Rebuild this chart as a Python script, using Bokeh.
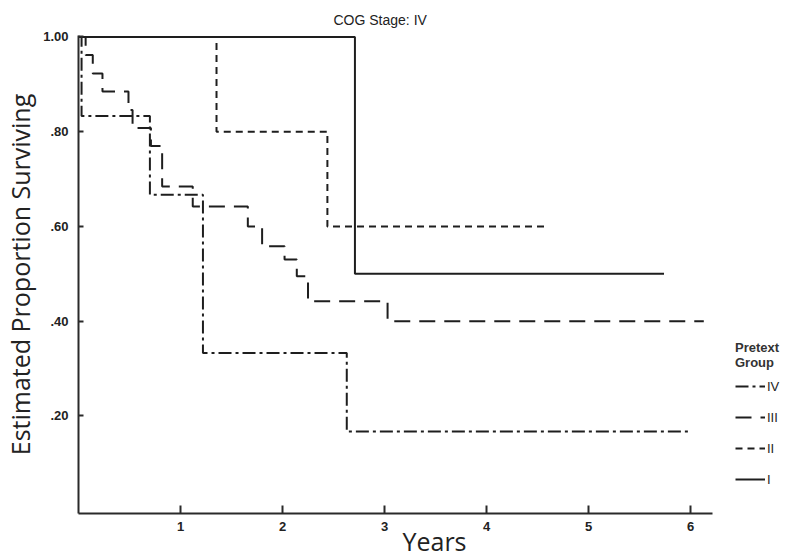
from bokeh.plotting import figure
from bokeh.models import Range1d, FixedTicker, Legend, LegendItem
from bokeh.embed import file_html
from bokeh.resources import INLINE

# ---- data ----
title_text = "COG Stage: IV"
x_label = "Years"
y_label = "Estimated Proportion Surviving"
legend_title = "Pretext\nGroup"

x_ticks = [1, 2, 3, 4, 5, 6]
x_tick_labels = ["1", "2", "3", "4", "5", "6"]
y_ticks = [0.2, 0.4, 0.6, 0.8, 1.0]
y_tick_labels = [".20", ".40", ".60", ".80", "1.00"]

groups = ["IV", "III", "II", "I"]

iv_t = [0.0, 0.03, 0.70, 1.22, 2.63, 6.0]
iv_s = [1.0, 0.833, 0.667, 0.333, 0.167, 0.167]

iii_t = [0.0, 0.07, 0.14, 0.235, 0.49, 0.53, 0.71, 0.82, 1.12, 1.66, 1.80, 2.02, 2.14, 2.25, 3.03, 6.13]
iii_s = [1.0, 0.962, 0.923, 0.885, 0.846, 0.808, 0.77, 0.684, 0.642, 0.60, 0.558, 0.53, 0.495, 0.442, 0.40, 0.40]

ii_t = [0.0, 1.353, 2.44, 4.61]
ii_s = [1.0, 0.80, 0.60, 0.60]

i_t = [0.0, 2.71, 5.74]
i_s = [1.0, 0.50, 0.50]

# ---- figure ----
p = figure(width=795, height=560, output_backend="svg", toolbar_location=None,
           x_range=Range1d(0, 6.98), y_range=Range1d(-0.006, 1.003),
           min_border_left=78, min_border_right=5, min_border_top=35, min_border_bottom=47)
p.outline_line_color = None
p.xgrid.grid_line_color = None
p.ygrid.grid_line_color = None
p.background_fill_color = "white"

p.title.text = title_text
p.title.align = "left"
p.title.offset = 255
p.title.standoff = 15
p.title.text_font = "Liberation Sans"
p.title.text_font_size = "14px"
p.title.text_font_style = "normal"
p.title.text_color = "#222222"

ink = "#1e1e1e"
lw = 2

r_iv = p.step(iv_t, iv_s, mode="after", line_color=ink, line_width=lw, line_dash="13 4 3 4")
r_iii = p.step(iii_t, iii_s, mode="after", line_color=ink, line_width=lw, line_dash="16 9")
r_ii = p.step(ii_t, ii_s, mode="after", line_color=ink, line_width=lw, line_dash="7 5")
r_i = p.step(i_t, i_s, mode="after", line_color=ink, line_width=lw)

# axes
for ax in (p.xaxis[0], p.yaxis[0]):
    ax.axis_line_color = "#2a2a2a"
    ax.axis_line_width = 2
    ax.major_tick_line_color = "#2a2a2a"
    ax.major_tick_line_width = 2
    ax.minor_tick_line_color = None
    ax.major_tick_out = 0
    ax.major_label_text_font = "Liberation Sans"
    ax.major_label_text_font_style = "bold"
    ax.major_label_text_font_size = "13px"
    ax.major_label_text_color = "#222222"
    ax.axis_label_text_font = "Open Sans"
    ax.axis_label_text_font_size = "25px"
    ax.axis_label_text_font_style = "normal"
    ax.axis_label_text_color = "#222222"

p.xaxis[0].bounds = (0, 6.22)
p.xaxis[0].ticker = FixedTicker(ticks=x_ticks)
p.xaxis[0].major_label_overrides = {t: l for t, l in zip(x_ticks, x_tick_labels)}
p.xaxis[0].major_tick_in = 8
p.xaxis[0].major_label_standoff = 8
p.xaxis[0].axis_label = x_label
p.xaxis[0].axis_label_standoff = -10

p.yaxis[0].ticker = FixedTicker(ticks=y_ticks)
p.yaxis[0].major_label_overrides = {t: l for t, l in zip(y_ticks, y_tick_labels)}
p.yaxis[0].major_tick_in = 5
p.yaxis[0].major_label_standoff = 10
p.yaxis[0].axis_label = y_label
p.yaxis[0].axis_label_standoff = 3

# legend (inside the extended frame, to the right of the x axis end)
legend = Legend(items=[LegendItem(label=g, renderers=[r]) for g, r in zip(groups, [r_iv, r_iii, r_ii, r_i])],
                location=(657, 24), padding=0, margin=0, border_line_color=None,
                background_fill_alpha=0, glyph_width=30, glyph_height=20, spacing=11,
                label_standoff=2, label_text_font="Liberation Sans", label_text_font_size="13px",
                label_text_color="#222222",
                title=legend_title, title_text_font="Liberation Sans", title_text_font_size="13px",
                title_text_font_style="bold", title_text_color="#333333", title_standoff=6)
p.add_layout(legend)

open("out.html", "w").write(file_html(p, INLINE))
